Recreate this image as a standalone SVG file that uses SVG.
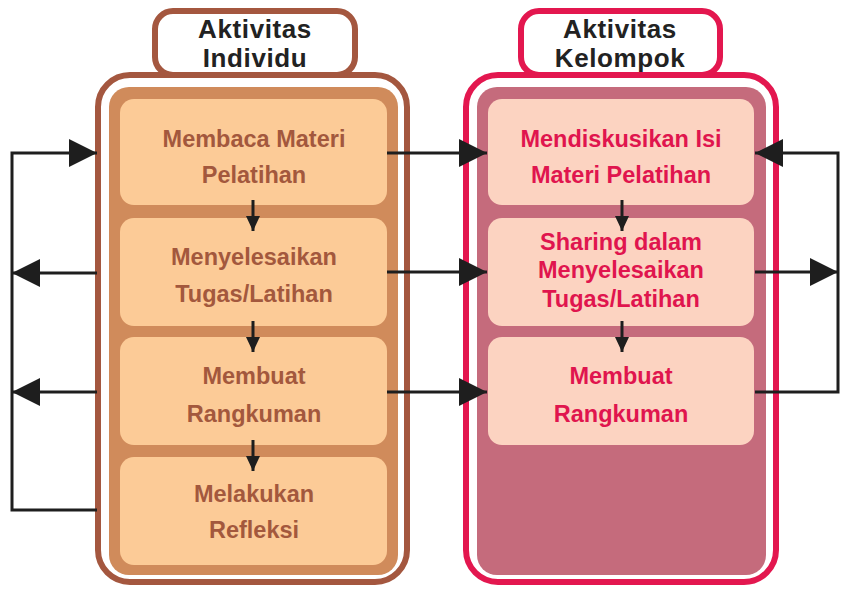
<svg xmlns="http://www.w3.org/2000/svg" width="841" height="589" viewBox="0 0 841 589">
<style>
.title{font-family:"Liberation Sans",Arial,sans-serif;font-weight:bold;font-size:26px;fill:#222;text-anchor:middle;letter-spacing:0.6px}
.tl{font-family:"Liberation Sans",Arial,sans-serif;font-weight:bold;font-size:23.5px;fill:#a3583d;text-anchor:middle}
.tr{font-family:"Liberation Sans",Arial,sans-serif;font-weight:bold;font-size:23.5px;fill:#e0154e;text-anchor:middle}
.frameL{fill:#fff;stroke:#a4573f;stroke-width:6}
.frameR{fill:#fff;stroke:#e3174f;stroke-width:6}
.panelL{fill:#d08b5b}
.panelR{fill:#c56b7c}
.boxL{fill:#fccb97}
.boxR{fill:#fcd3c1}
.con{stroke:#1e1e1e;stroke-width:3;fill:none}
</style>
<defs>
<marker id="big" markerUnits="userSpaceOnUse" markerWidth="28" markerHeight="28" refX="28" refY="14" orient="auto">
<path d="M0,0 L28,14 L0,28 z" fill="#1e1e1e"/>
</marker>
<marker id="small" markerUnits="userSpaceOnUse" markerWidth="15" markerHeight="14" refX="15" refY="7" orient="auto">
<path d="M0,0 L15,7 L0,14 z" fill="#1e1e1e"/>
</marker>
</defs>
<g id="individu">
<rect class="frameL" x="98" y="75" width="309" height="507" rx="32"/>
<rect class="frameL" x="155" y="11" width="200" height="64" rx="18"/>
<rect class="panelL" x="109" y="87" width="289" height="488" rx="20"/>
<text class="title" x="255" y="38">Aktivitas</text>
<text class="title" x="255" y="67">Individu</text>
</g>
<g id="kelompok">
<rect class="frameR" x="466" y="75" width="310" height="507" rx="32"/>
<rect class="frameR" x="521" y="11" width="199" height="64" rx="18"/>
<rect class="panelR" x="477" y="87" width="289" height="488" rx="20"/>
<text class="title" x="620" y="38">Aktivitas</text>
<text class="title" x="620" y="67">Kelompok</text>
</g>
<g id="membaca">
<rect class="boxL" x="120" y="99" width="267" height="106" rx="14"/>
<text class="tl" x="254" y="147">Membaca Materi</text>
<text class="tl" x="254" y="183">Pelatihan</text>
</g>
<g id="menyelesaikan">
<rect class="boxL" x="120" y="218" width="267" height="108" rx="14"/>
<text class="tl" x="254" y="265">Menyelesaikan</text>
<text class="tl" x="254" y="302">Tugas/Latihan</text>
</g>
<g id="rangkuman-ind">
<rect class="boxL" x="120" y="337" width="267" height="108" rx="14"/>
<text class="tl" x="254" y="384">Membuat</text>
<text class="tl" x="254" y="422">Rangkuman</text>
</g>
<g id="refleksi">
<rect class="boxL" x="120" y="457" width="267" height="108" rx="14"/>
<text class="tl" x="254" y="502">Melakukan</text>
<text class="tl" x="254" y="538">Refleksi</text>
</g>
<g id="mendiskusikan">
<rect class="boxR" x="488" y="99" width="266" height="106" rx="14"/>
<text class="tr" x="621" y="147">Mendiskusikan Isi</text>
<text class="tr" x="621" y="183">Materi Pelatihan</text>
</g>
<g id="sharing">
<rect class="boxR" x="488" y="218" width="266" height="108" rx="14"/>
<text class="tr" x="621" y="250">Sharing dalam</text>
<text class="tr" x="621" y="278">Menyelesaikan</text>
<text class="tr" x="621" y="307">Tugas/Latihan</text>
</g>
<g id="rangkuman-kel">
<rect class="boxR" x="488" y="337" width="266" height="108" rx="14"/>
<text class="tr" x="621" y="384">Membuat</text>
<text class="tr" x="621" y="422">Rangkuman</text>
</g>
<g id="connectors">
<line class="con" x1="253" y1="200" x2="253" y2="231" marker-end="url(#small)"/>
<line class="con" x1="253" y1="321" x2="253" y2="352" marker-end="url(#small)"/>
<line class="con" x1="253" y1="440" x2="253" y2="471" marker-end="url(#small)"/>
<line class="con" x1="622" y1="200" x2="622" y2="231" marker-end="url(#small)"/>
<line class="con" x1="622" y1="321" x2="622" y2="352" marker-end="url(#small)"/>
<line class="con" x1="387" y1="153" x2="487" y2="153" marker-end="url(#big)"/>
<line class="con" x1="387" y1="272" x2="487" y2="272" marker-end="url(#big)"/>
<line class="con" x1="387" y1="392" x2="487" y2="392" marker-end="url(#big)"/>
<polyline class="con" points="97,510 12,510 12,153 97,153" marker-end="url(#big)"/>
<line class="con" x1="97" y1="273" x2="12" y2="273" marker-end="url(#big)"/>
<line class="con" x1="97" y1="392" x2="12" y2="392" marker-end="url(#big)"/>
<polyline class="con" points="755,392 838,392 838,153 755,153" marker-end="url(#big)"/>
<line class="con" x1="755" y1="272" x2="838" y2="272" marker-end="url(#big)"/>
</g>
</svg>
